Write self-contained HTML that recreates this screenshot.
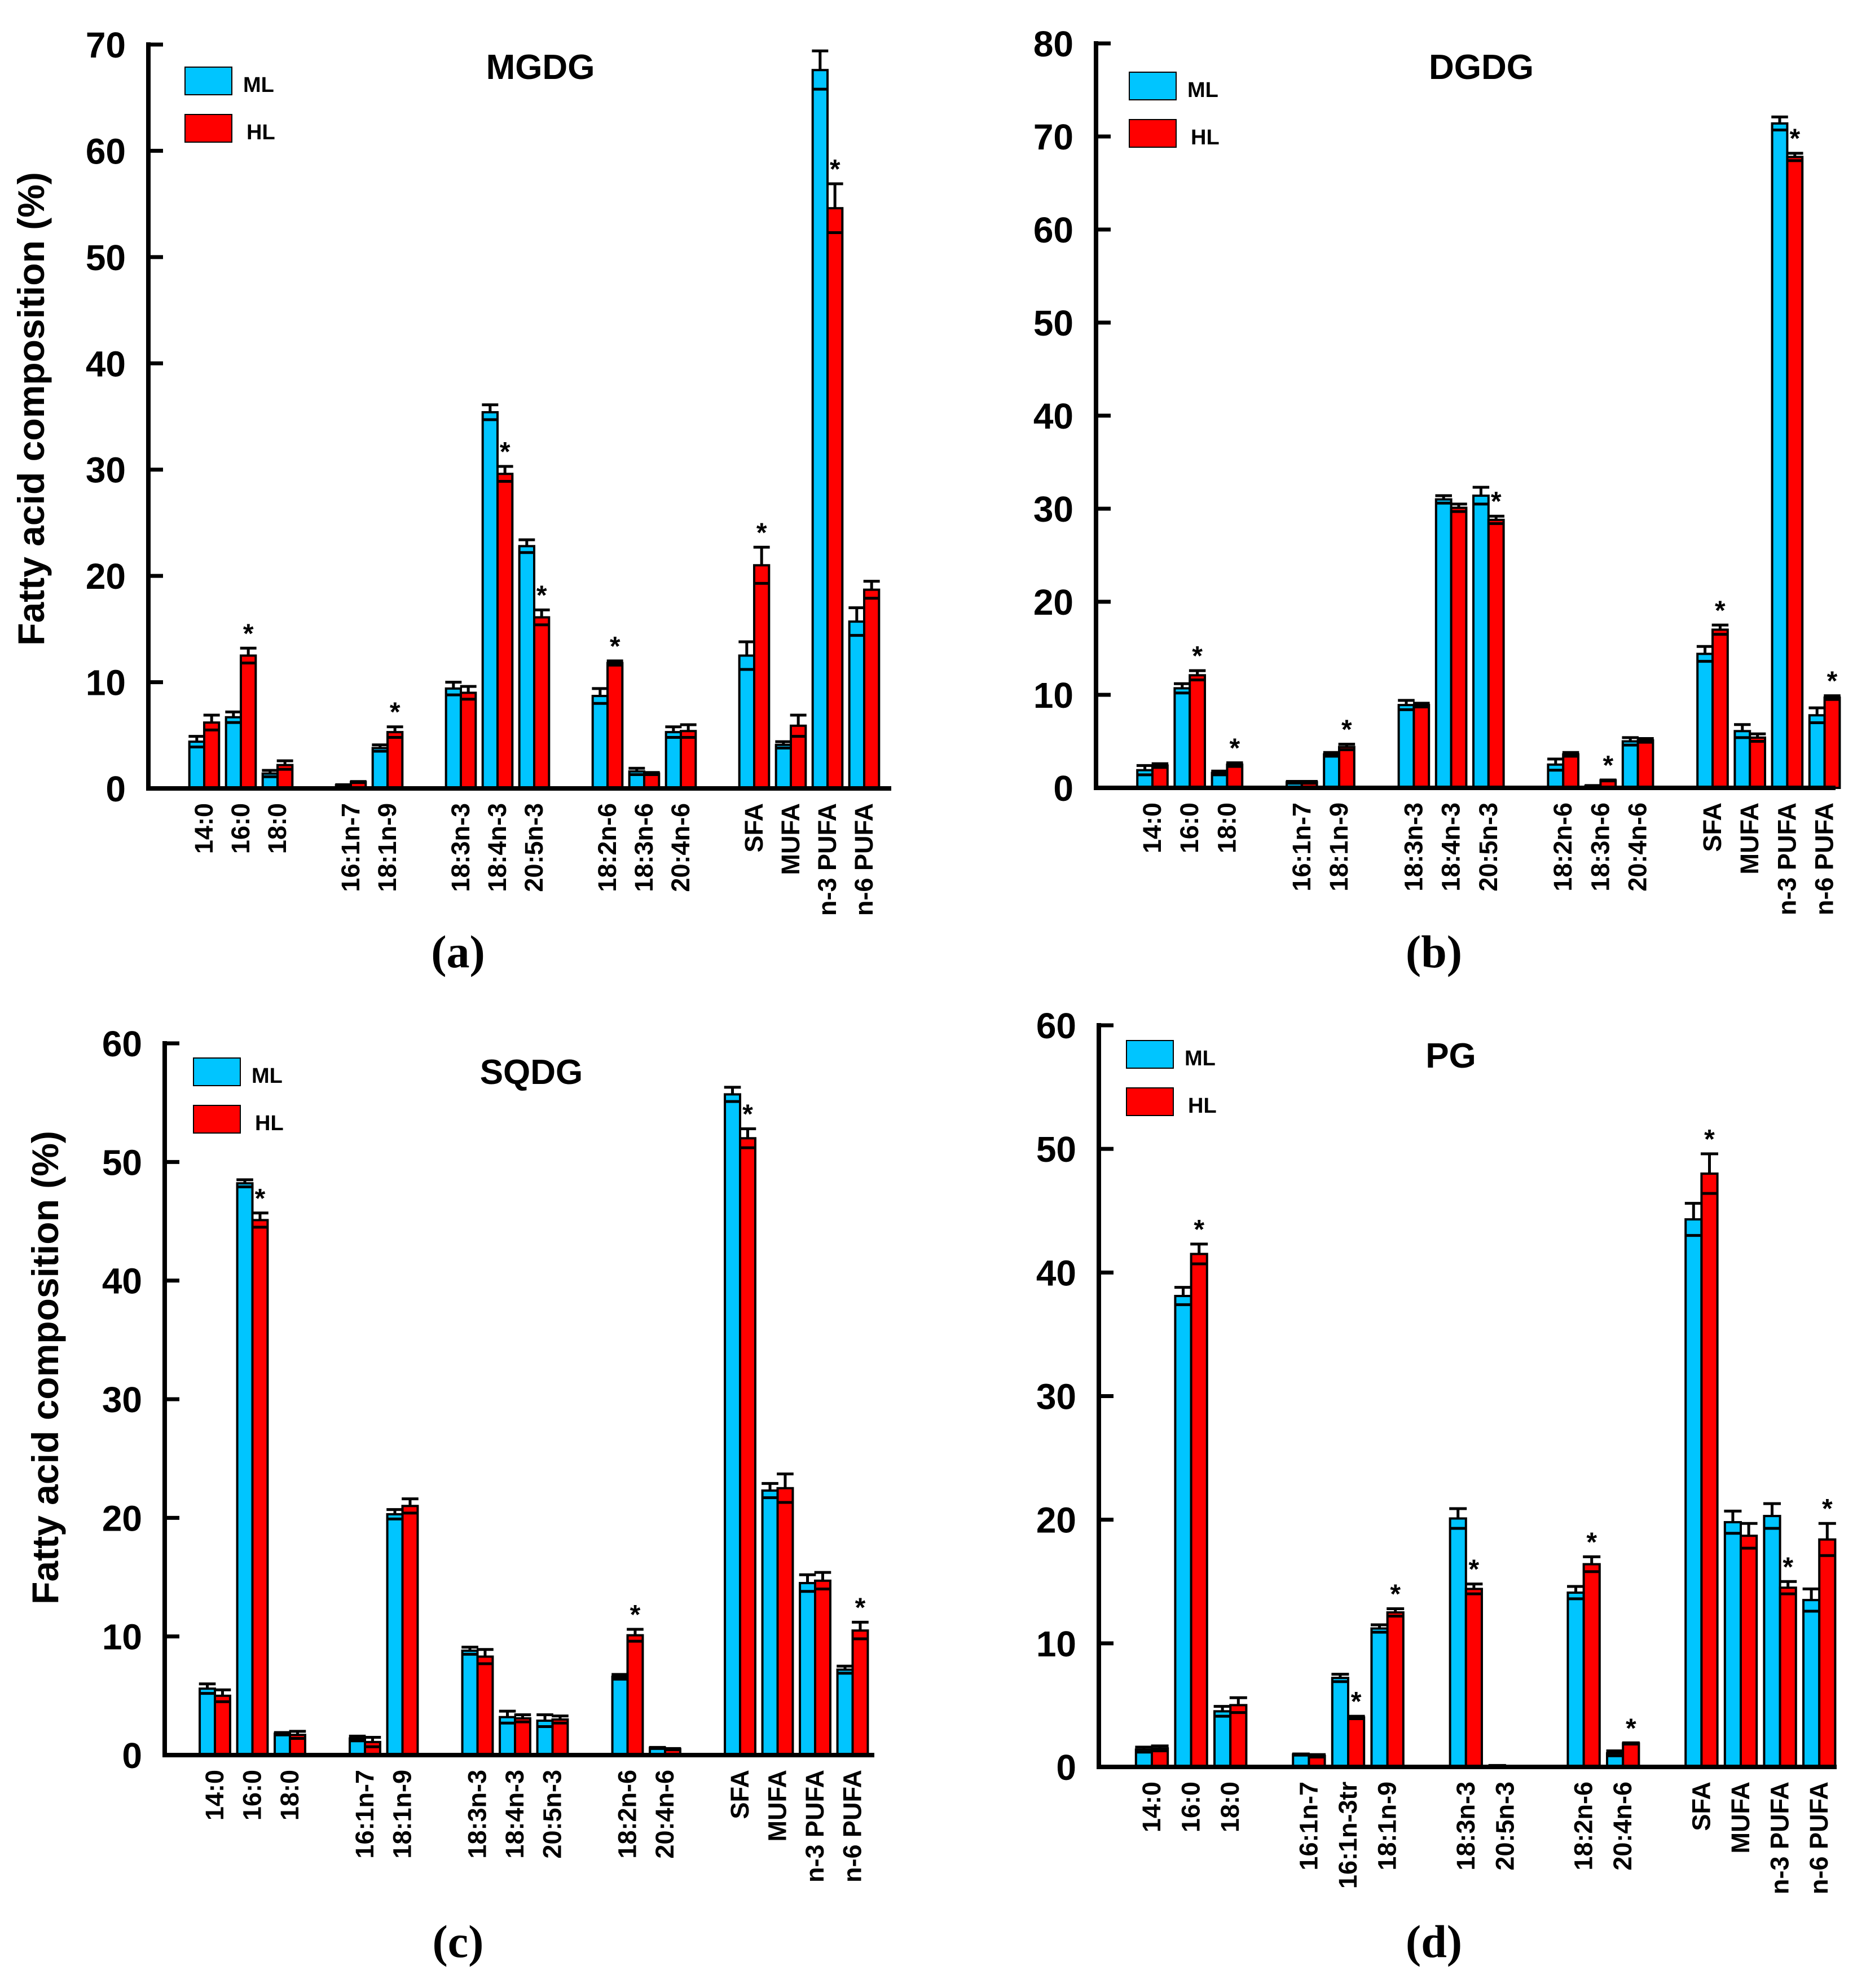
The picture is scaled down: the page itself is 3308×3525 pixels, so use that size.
<!DOCTYPE html>
<html><head><meta charset="utf-8">
<style>
html,body{margin:0;padding:0;background:#fff;}
svg{display:block;}
text{font-family:"Liberation Sans",Arial,sans-serif;font-weight:bold;fill:#000;}
.lbl{font-family:"Liberation Serif",serif;font-weight:bold;}
</style></head>
<body>
<svg id="fig" xmlns="http://www.w3.org/2000/svg" width="3308" height="3525" viewBox="0 0 3308 3525"></svg>
<script>
// ---- Panel (a) MGDG ----
const mgdgCats = ["14:0","16:0","18:0","","16:1n-7","18:1n-9","","18:3n-3","18:4n-3","20:5n-3","","18:2n-6","18:3n-6","20:4n-6","","SFA","MUFA","n-3 PUFA","n-6 PUFA"];
const mgdgML   = [4.4,6.7,1.4,null,0.3,3.8,null,9.4,35.4,22.8,null,8.7,1.6,5.3,null,12.5,4.1,67.6,15.7];
const mgdgMLe  = [0.5,0.5,0.3,null,0.05,0.3,null,0.6,0.7,0.6,null,0.7,0.3,0.5,null,1.3,0.3,1.8,1.3];
const mgdgHL   = [6.2,12.5,2.2,null,0.6,5.3,null,9.0,29.6,16.1,null,11.8,1.4,5.4,null,21.0,5.9,54.6,18.7];
const mgdgHLe  = [0.7,0.7,0.4,null,0.05,0.5,null,0.6,0.7,0.7,null,0.2,0.1,0.6,null,1.7,1.0,2.3,0.8];
const mgdgSig  = [0,1,0,0,0,1,0,0,1,1,0,1,0,0,0,1,0,1,0];
const mgdgTicks = [0,10,20,30,40,50,60,70];

// ---- Panel (b) DGDG ----
const dgdgCats = ["14:0","16:0","18:0","","16:1n-7","18:1n-9","","18:3n-3","18:4n-3","20:5n-3","","18:2n-6","18:3n-6","20:4n-6","","SFA","MUFA","n-3 PUFA","n-6 PUFA"];
const dgdgML   = [1.9,10.7,1.6,null,0.6,3.6,null,8.9,31.0,31.4,null,2.5,0.2,5.0,null,14.4,6.1,71.4,7.8];
const dgdgMLe  = [0.5,0.5,0.2,null,0.1,0.2,null,0.5,0.4,0.9,null,0.6,0.05,0.4,null,0.8,0.7,0.7,0.8];
const dgdgHL   = [2.4,12.1,2.5,null,0.6,4.4,null,8.9,30.1,28.8,null,3.6,0.8,5.1,null,17.0,5.4,67.8,9.7];
const dgdgHLe  = [0.2,0.5,0.2,null,0.1,0.3,null,0.2,0.4,0.4,null,0.2,0.05,0.2,null,0.5,0.4,0.4,0.2];
const dgdgSig  = [0,1,1,0,0,1,0,0,0,1,0,0,1,0,0,1,0,1,1];
const dgdgTicks = [0,10,20,30,40,50,60,70,80];

// ---- Panel (c) SQDG ----
const sqdgCats = ["14:0","16:0","18:0","","16:1n-7","18:1n-9","","18:3n-3","18:4n-3","20:5n-3","","18:2n-6","20:4n-6","","SFA","MUFA","n-3 PUFA","n-6 PUFA"];
const sqdgML   = [5.6,48.2,1.8,null,1.4,20.3,null,8.8,3.2,2.9,null,6.6,0.6,null,55.7,22.3,14.5,7.2];
const sqdgMLe  = [0.4,0.3,0.1,null,0.2,0.4,null,0.3,0.5,0.5,null,0.2,0.05,null,0.6,0.6,0.7,0.3];
const sqdgHL   = [5.0,45.1,1.7,null,1.1,21.0,null,8.3,3.1,3.0,null,10.1,0.5,null,52.0,22.5,14.7,10.5];
const sqdgHLe  = [0.5,0.6,0.3,null,0.4,0.6,null,0.6,0.3,0.3,null,0.5,0.05,null,0.8,1.2,0.7,0.7];
const sqdgSig  = [0,1,0,0,0,0,0,0,0,0,0,1,0,0,1,0,0,1];
const sqdgTicks = [0,10,20,30,40,50,60];

// ---- Panel (d) PG ----
const pgCats = ["14:0","16:0","18:0","","16:1n-7","16:1n-3tr","18:1n-9","","18:3n-3","20:5n-3","","18:2n-6","20:4n-6","","SFA","MUFA","n-3 PUFA","n-6 PUFA"];
const pgML   = [1.4,38.1,4.5,null,1.0,7.2,11.2,null,20.1,0.1,null,14.1,1.1,null,44.3,19.8,20.3,13.5];
const pgMLe  = [0.2,0.7,0.4,null,0.05,0.3,0.3,null,0.8,0.02,null,0.5,0.2,null,1.3,0.9,1.0,0.9];
const pgHL   = [1.5,41.5,5.0,null,0.9,4.0,12.5,null,14.4,0.05,null,16.4,1.9,null,48.0,18.7,14.5,18.4];
const pgHLe  = [0.2,0.8,0.6,null,0.1,0.1,0.3,null,0.4,0.02,null,0.6,0.05,null,1.6,1.0,0.5,1.3];
const pgSig  = [0,1,0,0,0,1,1,0,1,0,0,1,1,0,1,0,1,1];
const pgTicks = [0,10,20,30,40,50,60];

const NS = "http://www.w3.org/2000/svg";
const svg = document.getElementById('fig');
function mk(tag, attrs, parent){
  const e = document.createElementNS(NS, tag);
  for (const k in attrs) e.setAttribute(k, attrs[k]);
  (parent||svg).appendChild(e);
  return e;
}

function panel(o){
  const g = mk('g', {});
  
  
  const ymax = o.ticks[o.ticks.length-1];
  const y = v => o.y0 - (v/ymax)*(o.y0 - o.ytop);
  const xc = i => o.slot0 + i*o.pitch;
  const bw = o.pitch*0.405;

  for (let i=0;i<o.cats.length;i++){
    if (o.ml[i]===null) continue;
    const series = [[o.ml[i],o.mle[i],'#00c5ff',-1,'ml'],[o.hl[i],o.hle[i],'#ff0000',0,'hl']];
    series.forEach(s=>{
      const x = xc(i) + s[3]*bw;
      const r = mk('rect',{x:x, y:y(s[0]), width:bw, height:o.y0-y(s[0]), fill:s[2], stroke:'#000','stroke-width':4}, g);
      
      
      const cx = x + bw/2, cw = bw*0.55;
      const eb = mk('g',{stroke:'#000','stroke-width':5}, g);
      
      
      mk('line',{x1:cx,x2:cx,y1:y(s[0]+s[1]),y2:y(s[0])}, eb);
      mk('line',{x1:cx-cw,x2:cx+cw,y1:y(s[0]+s[1]),y2:y(s[0]+s[1])}, eb);
      mk('line',{x1:cx-cw,x2:cx+cw,y1:y(Math.max(s[0]-s[1],0)),y2:y(Math.max(s[0]-s[1],0))}, eb);
    });
    if (o.sig[i]){
      const t = mk('text',{x:xc(i)+bw/2, y:y(o.hl[i]+o.hle[i])-10, 'font-size':48, 'text-anchor':'middle'}, g);
      t.textContent = '*';
      
      
    }
    const lx = xc(i)+15, ly = o.y0+26;
    const lt = mk('text',{x:lx, y:ly, 'font-size':45, 'text-anchor':'end', transform:`rotate(-90 ${lx} ${ly})`}, g);
    lt.textContent = o.cats[i];
    
    
  }

  const ax = mk('g',{stroke:'#000','stroke-width':8,fill:'none'}, g);
  
  
  mk('polyline',{points:`${o.ax},${o.ytop-4} ${o.ax},${o.y0} ${o.xend},${o.y0}`}, ax);
  o.ticks.forEach(t=>{
    mk('line',{x1:o.ax, x2:o.ax+26, y1:y(t), y2:y(t), 'stroke-width':7}, ax);
    const tl = mk('text',{x:o.ax-40, y:y(t)+23, 'font-size':64, 'text-anchor':'end'}, g);
    tl.textContent = t;
    
    
  });

  const tt = mk('text',{x:o.titleX, y:o.titleY, 'font-size':62, 'text-anchor':'middle'}, g);
  tt.textContent = o.title;
  
  

  const lg = mk('g',{}, g);
  
  
  [['ML','#00c5ff',o.legY],['HL','#ff0000',o.legY+84]].forEach((l,k)=>{
    mk('rect',{x:o.legX, y:l[2], width:83, height:49, fill:l[1], stroke:'#000','stroke-width':2}, lg);
    const lt2 = mk('text',{x:o.legX+103+(k*6), y:l[2]+44, 'font-size':38}, lg);
    lt2.textContent = l[0];
    
    
  });

  if (o.ytitle){
    const yt = mk('text',{x:o.ytitle[0], y:o.ytitle[1], 'font-size':66, 'text-anchor':'middle', transform:`rotate(-90 ${o.ytitle[0]} ${o.ytitle[1]})`}, g);
    yt.textContent = 'Fatty acid composition (%)';
    
    
  }
  const pl = mk('text',{x:o.lab[0], y:o.lab[1], 'font-size':82, 'text-anchor':'middle', class:'lbl'}, g);
  pl.textContent = o.labText;
  
  
}

panel({id:'mgdg', cats:mgdgCats, ml:mgdgML, mle:mgdgMLe, hl:mgdgHL, hle:mgdgHLe, sig:mgdgSig, ticks:mgdgTicks,
  ax:263, y0:1398, ytop:79, xend:1580, slot0:362, pitch:65, title:'MGDG', titleX:958, titleY:140,
  legX:328, legY:119, ytitle:[78,725], lab:[812,1715], labText:'(a)'});
panel({id:'dgdg', cats:dgdgCats, ml:dgdgML, mle:dgdgMLe, hl:dgdgHL, hle:dgdgHLe, sig:dgdgSig, ticks:dgdgTicks,
  ax:1943, y0:1397, ytop:77, xend:3254, slot0:2043, pitch:66.2, title:'DGDG', titleX:2626, titleY:140,
  legX:2002, legY:128, ytitle:null, lab:[2542,1715], labText:'(b)'});
panel({id:'sqdg', cats:sqdgCats, ml:sqdgML, mle:sqdgMLe, hl:sqdgHL, hle:sqdgHLe, sig:sqdgSig, ticks:sqdgTicks,
  ax:292, y0:3112, ytop:1850, xend:1550, slot0:381, pitch:66.5, title:'SQDG', titleX:942, titleY:1922,
  legX:343, legY:1876, ytitle:[103,2425], lab:[812,3470], labText:'(c)'});
panel({id:'pg', cats:pgCats, ml:pgML, mle:pgMLe, hl:pgHL, hle:pgHLe, sig:pgSig, ticks:pgTicks,
  ax:1948, y0:3133, ytop:1818, xend:3256, slot0:2042, pitch:69.6, title:'PG', titleX:2572, titleY:1893,
  legX:1997, legY:1845, ytitle:null, lab:[2542,3470], labText:'(d)'});
</script>
</body></html>
